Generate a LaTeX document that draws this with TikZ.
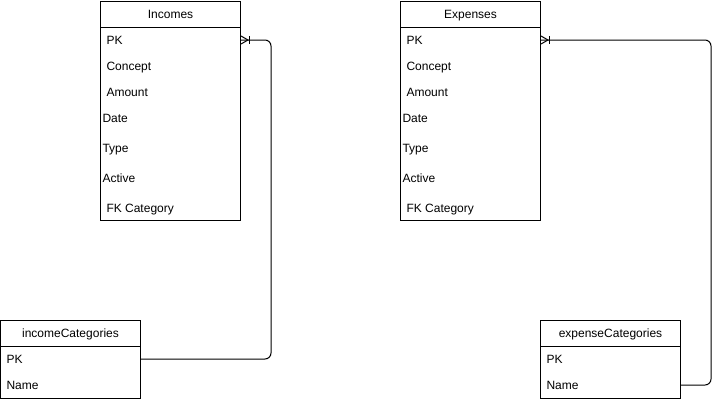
\documentclass[tikz,border=0pt]{standalone}
\usepackage{fontspec}
\setmainfont{Liberation Sans}
\usetikzlibrary{calc,positioning}

\newcommand{\crowsfoot}[1]{%
  \draw (#1) +(0,-4) -- +(7,0) -- +(0,4);
  \draw (#1) +(8,-4) -- +(8,4);}

\begin{document}
\begin{tikzpicture}[x=1pt, y=-1pt, line width=1pt, font=\fontsize{12}{14}\selectfont]
      \tikzstyle{table}=[draw, rectangle, minimum width=140pt, anchor=north west, inner sep=0pt]
      \tikzstyle{title}=[draw, rectangle, minimum width=140pt, minimum height=26pt, anchor=north west, inner sep=0pt, text height=10pt, text depth=2pt]
      \tikzstyle{field}=[anchor=west, inner sep=0pt, text height=10pt, text depth=2pt]

      \useasboundingbox (0,0) rectangle (719,402);

      % Incomes table
      \node[table, minimum height=219pt] (incomes) at (100,1) {};
      \node[title] (incomesT) at (incomes.north west) {Incomes};
      \node[field] (incPK) at (106,40) {PK};
      \node[field] (incConcept) at (106,66) {Concept};
      \node[field] (incAmount) at (106,92) {Amount};
      \node[field] (incDate) at (102,118) {Date};
      \node[field] (incType) at (102,148) {Type};
      \node[field] (incActive) at (102,178) {Active};
      \node[field] (incFK) at (106,208) {FK Category};

      % Expenses table
      \node[table, minimum height=219pt] (expenses) at (400,1) {};
      \node[title] (expensesT) at (expenses.north west) {Expenses};
      \node[field] (expPK) at (406,40) {PK};
      \node[field] (expConcept) at (406,66) {Concept};
      \node[field] (expAmount) at (406,92) {Amount};
      \node[field] (expDate) at (402,118) {Date};
      \node[field] (expType) at (402,148) {Type};
      \node[field] (expActive) at (402,178) {Active};
      \node[field] (expFK) at (406,208) {FK Category};

      % category tables
      \node[table, minimum height=78pt] (incCat) at (0,320) {};
      \node[title] (incCatT) at (incCat.north west) {incomeCategories};
      \node[field] (incCatPK) at (6,359) {PK};
      \node[field] (incCatName) at (6,385) {Name};

      \node[table, minimum height=78pt] (expCat) at (540,320) {};
      \node[title] (expCatT) at (expCat.north west) {expenseCategories};
      \node[field] (expCatPK) at (546,359) {PK};
      \node[field] (expCatName) at (546,385) {Name};

      % relations
      \draw[rounded corners=6pt] (incCat.east |- incCatPK) -- ++(130,0) |- (incomes.east |- incPK);
      \crowsfoot{incomes.east |- incPK}
      \draw[rounded corners=6pt] (expCat.east |- expCatName) -- ++(30,0) |- (expenses.east |- expPK);
      \crowsfoot{expenses.east |- expPK}
    \end{tikzpicture}
\end{document}
